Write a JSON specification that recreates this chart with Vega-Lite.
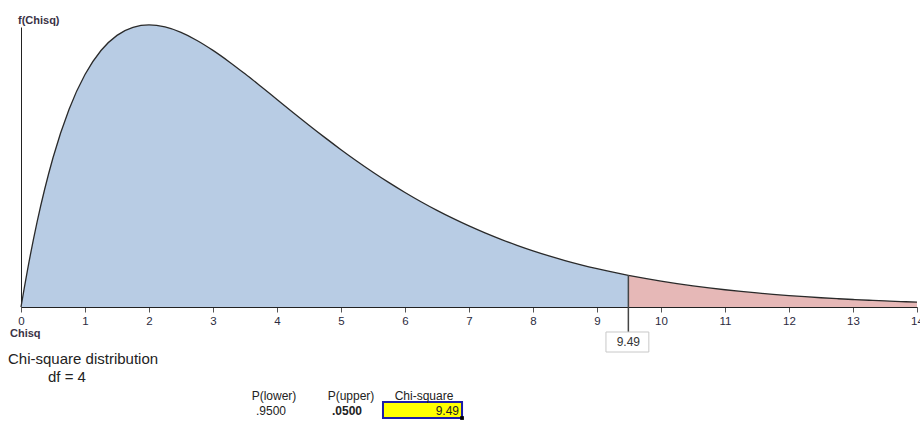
{
  "$schema": "https://vega.github.io/schema/vega-lite/v6.json",
  "autosize": "none",
  "width": 896,
  "height": 280,
  "padding": {"left": 21, "top": 27, "right": 3, "bottom": 114},
  "background": "white",
  "config": {"view": {"stroke": null}, "font": "Liberation Sans"},
  "datasets": {
    "density": [
      {"x": 0, "f": 0, "region": "lower"},
      {"x": 0.05, "f": 0.012191, "region": "lower"},
      {"x": 0.1, "f": 0.023781, "region": "lower"},
      {"x": 0.25, "f": 0.055156, "region": "lower"},
      {"x": 0.5, "f": 0.09735, "region": "lower"},
      {"x": 0.75, "f": 0.128867, "region": "lower"},
      {"x": 1, "f": 0.151633, "region": "lower"},
      {"x": 1.25, "f": 0.167269, "region": "lower"},
      {"x": 1.5, "f": 0.177138, "region": "lower"},
      {"x": 1.75, "f": 0.182377, "region": "lower"},
      {"x": 2, "f": 0.18394, "region": "lower"},
      {"x": 2.25, "f": 0.182617, "region": "lower"},
      {"x": 2.5, "f": 0.179066, "region": "lower"},
      {"x": 2.75, "f": 0.173828, "region": "lower"},
      {"x": 3, "f": 0.167348, "region": "lower"},
      {"x": 3.25, "f": 0.159991, "region": "lower"},
      {"x": 3.5, "f": 0.152052, "region": "lower"},
      {"x": 3.75, "f": 0.14377, "region": "lower"},
      {"x": 4, "f": 0.135335, "region": "lower"},
      {"x": 4.25, "f": 0.126898, "region": "lower"},
      {"x": 4.5, "f": 0.118574, "region": "lower"},
      {"x": 4.75, "f": 0.110454, "region": "lower"},
      {"x": 5, "f": 0.102606, "region": "lower"},
      {"x": 5.25, "f": 0.095078, "region": "lower"},
      {"x": 5.5, "f": 0.087901, "region": "lower"},
      {"x": 5.75, "f": 0.081098, "region": "lower"},
      {"x": 6, "f": 0.074681, "region": "lower"},
      {"x": 6.25, "f": 0.068652, "region": "lower"},
      {"x": 6.5, "f": 0.063008, "region": "lower"},
      {"x": 6.75, "f": 0.057743, "region": "lower"},
      {"x": 7, "f": 0.052845, "region": "lower"},
      {"x": 7.25, "f": 0.048301, "region": "lower"},
      {"x": 7.5, "f": 0.044096, "region": "lower"},
      {"x": 7.75, "f": 0.040211, "region": "lower"},
      {"x": 8, "f": 0.036631, "region": "lower"},
      {"x": 8.25, "f": 0.033336, "region": "lower"},
      {"x": 8.5, "f": 0.030311, "region": "lower"},
      {"x": 8.75, "f": 0.027536, "region": "lower"},
      {"x": 9, "f": 0.024995, "region": "lower"},
      {"x": 9.25, "f": 0.02267, "region": "lower"},
      {"x": 9.49, "f": 0.020629, "region": "lower"},
      {"x": 9.49, "f": 0.020629, "region": "upper"},
      {"x": 9.75, "f": 0.018611, "region": "upper"},
      {"x": 10, "f": 0.016845, "region": "upper"},
      {"x": 10.25, "f": 0.015237, "region": "upper"},
      {"x": 10.5, "f": 0.013775, "region": "upper"},
      {"x": 10.75, "f": 0.012446, "region": "upper"},
      {"x": 11, "f": 0.011239, "region": "upper"},
      {"x": 11.25, "f": 0.010144, "region": "upper"},
      {"x": 11.5, "f": 0.009151, "region": "upper"},
      {"x": 11.75, "f": 0.008251, "region": "upper"},
      {"x": 12, "f": 0.007436, "region": "upper"},
      {"x": 12.25, "f": 0.0067, "region": "upper"},
      {"x": 12.5, "f": 0.006032, "region": "upper"},
      {"x": 12.75, "f": 0.005431, "region": "upper"},
      {"x": 13, "f": 0.004886, "region": "upper"},
      {"x": 13.25, "f": 0.004395, "region": "upper"},
      {"x": 13.5, "f": 0.003952, "region": "upper"},
      {"x": 13.75, "f": 0.003552, "region": "upper"},
      {"x": 14, "f": 0.003191, "region": "upper"}
    ]
  },
  "layer": [
    {
      "data": {"name": "density"},
      "mark": {"type": "area", "opacity": 1, "interpolate": "monotone"},
      "encoding": {
        "x": {
          "field": "x",
          "type": "quantitative",
          "scale": {"domain": [0, 14], "nice": false, "zero": false},
          "axis": {
            "values": [0, 1, 2, 3, 4, 5, 6, 7, 8, 9, 10, 11, 12, 13, 14],
            "format": "d",
            "title": null,
            "grid": false,
            "labelFontSize": 11.5,
            "labelColor": "#2b2b40",
            "labelPadding": 3,
            "labelFlush": false,
            "tickSize": 5,
            "tickColor": "#555555",
            "domainColor": "#222222"
          }
        },
        "y": {
          "field": "f",
          "type": "quantitative",
          "stack": null,
          "scale": {"domain": [0, 0.1826], "nice": false},
          "axis": {
            "title": null,
            "labels": false,
            "ticks": false,
            "grid": false,
            "domainColor": "#222222"
          }
        },
        "color": {
          "field": "region",
          "type": "nominal",
          "scale": {"domain": ["lower", "upper"], "range": ["#b8cce4", "#e6b8b7"]},
          "legend": null
        }
      }
    },
    {
      "data": {"name": "density"},
      "mark": {"type": "line", "color": "#2a2a2a", "strokeWidth": 1.3, "interpolate": "monotone"},
      "encoding": {
        "x": {"field": "x", "type": "quantitative"},
        "y": {"field": "f", "type": "quantitative"},
        "detail": {"field": "region"}
      }
    },
    {
      "data": {"values": [{"x": 9.49, "top": 0.020629, "bottom": -0.0163}]},
      "mark": {"type": "rule", "color": "#444444", "strokeWidth": 1.5},
      "encoding": {
        "x": {"field": "x", "type": "quantitative"},
        "y": {"field": "top", "type": "quantitative"},
        "y2": {"field": "bottom"}
      }
    },
    {
      "data": {"values": [{"x1": 9.14, "x2": 9.81, "y1": -0.0163, "y2": -0.02935}]},
      "mark": {"type": "rect", "fill": "white", "stroke": "#c8c8c8", "strokeWidth": 1},
      "encoding": {
        "x": {"field": "x1", "type": "quantitative"},
        "x2": {"field": "x2"},
        "y": {"field": "y1", "type": "quantitative"},
        "y2": {"field": "y2"}
      }
    },
    {
      "data": {"values": [{"x1": 5.656, "x2": 6.891, "y1": -0.062, "y2": -0.0724}]},
      "mark": {"type": "rect", "fill": "#ffff00", "stroke": "#1c1ca8", "strokeWidth": 2},
      "encoding": {
        "x": {"field": "x1", "type": "quantitative"},
        "x2": {"field": "x2"},
        "y": {"field": "y1", "type": "quantitative"},
        "y2": {"field": "y2"}
      }
    },
    {
      "data": {"values": [{"x": 6.891, "y": -0.0724}]},
      "mark": {"type": "point", "shape": "square", "filled": true, "color": "black", "size": 14, "opacity": 1},
      "encoding": {
        "x": {"field": "x", "type": "quantitative"},
        "y": {"field": "y", "type": "quantitative"}
      }
    },
    {
      "data": {"values": [
        {"x": -0.047, "y": 0.1866, "label": "f(Chisq)"},
        {"x": -0.172, "y": -0.0178, "label": "Chisq"}
      ]},
      "mark": {"type": "text", "align": "left", "baseline": "middle", "fontSize": 11, "fontWeight": "bold", "color": "#3b3346"},
      "encoding": {
        "x": {"field": "x", "type": "quantitative"},
        "y": {"field": "y", "type": "quantitative"},
        "text": {"field": "label"}
      }
    },
    {
      "data": {"values": [{"x": 9.49, "y": -0.02283, "label": "9.49"}]},
      "mark": {"type": "text", "align": "center", "baseline": "middle", "fontSize": 12, "color": "#333333"},
      "encoding": {
        "x": {"field": "x", "type": "quantitative"},
        "y": {"field": "y", "type": "quantitative"},
        "text": {"field": "label"}
      }
    },
    {
      "data": {"values": [
        {"x": -0.203, "y": -0.03717, "label": "Chi-square distribution"},
        {"x": 0.422, "y": -0.0489, "label": "df = 4"}
      ]},
      "mark": {"type": "text", "align": "left", "baseline": "alphabetic", "fontSize": 15, "color": "#222222"},
      "encoding": {
        "x": {"field": "x", "type": "quantitative"},
        "y": {"field": "y", "type": "quantitative"},
        "text": {"field": "label"}
      }
    },
    {
      "data": {"values": [
        {"x": 3.953, "y": -0.0607, "label": "P(lower)"},
        {"x": 5.156, "y": -0.0607, "label": "P(upper)"},
        {"x": 6.297, "y": -0.0607, "label": "Chi-square"},
        {"x": 3.906, "y": -0.07043, "label": ".9500"}
      ]},
      "mark": {"type": "text", "align": "center", "baseline": "alphabetic", "fontSize": 12, "color": "#222222"},
      "encoding": {
        "x": {"field": "x", "type": "quantitative"},
        "y": {"field": "y", "type": "quantitative"},
        "text": {"field": "label"}
      }
    },
    {
      "data": {"values": [{"x": 5.094, "y": -0.07043, "label": ".0500"}]},
      "mark": {"type": "text", "align": "center", "baseline": "alphabetic", "fontSize": 12, "fontWeight": "bold", "color": "#222222"},
      "encoding": {
        "x": {"field": "x", "type": "quantitative"},
        "y": {"field": "y", "type": "quantitative"},
        "text": {"field": "label"}
      }
    },
    {
      "data": {"values": [{"x": 6.844, "y": -0.07043, "label": "9.49"}]},
      "mark": {"type": "text", "align": "right", "baseline": "alphabetic", "fontSize": 12, "color": "#222222"},
      "encoding": {
        "x": {"field": "x", "type": "quantitative"},
        "y": {"field": "y", "type": "quantitative"},
        "text": {"field": "label"}
      }
    }
  ]
}
